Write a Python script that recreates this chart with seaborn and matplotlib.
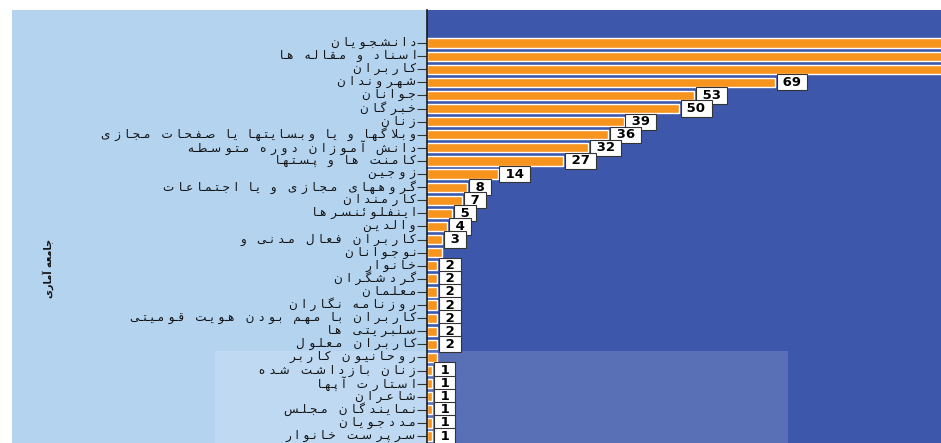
import matplotlib
matplotlib.use("Agg")
import matplotlib.pyplot as plt
from matplotlib.patches import Rectangle
from matplotlib.transforms import ScaledTranslation
import seaborn as sns

# categories (top to bottom) and counts
categories = [
    "دانشجویان", "اسناد و مقاله ها", "کاربران", "شهروندان", "جوانان", "خبرگان",
    "زنان", "وبلاگها و یا وبسایتها یا صفحات مجازی", "دانش آموزان دوره متوسطه",
    "کامنت ها و پستها", "زوجین", "گروههای مجازی و یا اجتماعات", "کارمندان",
    "اینفلوئنسرها", "والدین", "کاربران فعال مدنی و", "نوجوانان", "خانوار",
    "گردشگران", "معلمان", "روزنامه نگاران", "کاربران با مهم بودن هویت قومیتی",
    "سلبریتی ها", "کاربران معلول", "روحانیون کاربر", "زنان بازداشت شده",
    "استارت آپها", "شاعران", "نمایندگان مجلس", "مددجویان", "سرپرست خانوار",
]
counts = [130, 118, 108, 69, 53, 50, 39, 36, 32, 27, 14, 8, 7, 5, 4, 3, 3,
          2, 2, 2, 2, 2, 2, 2, 2, 1, 1, 1, 1, 1, 1]
# value boxes printed in the chart ('' = no box visible)
value_labels = ["", "", "", "69", "53", "50", "39", "36", "32", "27", "14", "8",
                "7", "5", "4", "3", "", "2", "2", "2", "2", "2", "2", "2", "",
                "1", "1", "1", "1", "1", "1"]
y_title = "جامعه آماری"

ORANGE = "#F7941E"
NAVY = "#3D58AB"
SKY = "#B3D3EF"

# --- minimal Persian shaping (matplotlib has no bidi/joining) ---
FORMS = {
    "ا": (0xFE8D, 0xFE8E, None, None), "آ": (0xFE81, 0xFE82, None, None),
    "ب": (0xFE8F, 0xFE90, 0xFE91, 0xFE92), "پ": (0xFB56, 0xFB57, 0xFB58, 0xFB59),
    "ت": (0xFE95, 0xFE96, 0xFE97, 0xFE98), "ث": (0xFE99, 0xFE9A, 0xFE9B, 0xFE9C),
    "ج": (0xFE9D, 0xFE9E, 0xFE9F, 0xFEA0), "چ": (0xFB7A, 0xFB7B, 0xFB7C, 0xFB7D),
    "ح": (0xFEA1, 0xFEA2, 0xFEA3, 0xFEA4), "خ": (0xFEA5, 0xFEA6, 0xFEA7, 0xFEA8),
    "د": (0xFEA9, 0xFEAA, None, None), "ذ": (0xFEAB, 0xFEAC, None, None),
    "ر": (0xFEAD, 0xFEAE, None, None), "ز": (0xFEAF, 0xFEB0, None, None),
    "ژ": (0xFB8A, 0xFB8B, None, None), "س": (0xFEB1, 0xFEB2, 0xFEB3, 0xFEB4),
    "ش": (0xFEB5, 0xFEB6, 0xFEB7, 0xFEB8), "ص": (0xFEB9, 0xFEBA, 0xFEBB, 0xFEBC),
    "ض": (0xFEBD, 0xFEBE, 0xFEBF, 0xFEC0), "ط": (0xFEC1, 0xFEC2, 0xFEC3, 0xFEC4),
    "ظ": (0xFEC5, 0xFEC6, 0xFEC7, 0xFEC8), "ع": (0xFEC9, 0xFECA, 0xFECB, 0xFECC),
    "غ": (0xFECD, 0xFECE, 0xFECF, 0xFED0), "ف": (0xFED1, 0xFED2, 0xFED3, 0xFED4),
    "ق": (0xFED5, 0xFED6, 0xFED7, 0xFED8), "ک": (0xFB8E, 0xFB8F, 0xFB90, 0xFB91),
    "گ": (0xFB92, 0xFB93, 0xFB94, 0xFB95), "ل": (0xFEDD, 0xFEDE, 0xFEDF, 0xFEE0),
    "م": (0xFEE1, 0xFEE2, 0xFEE3, 0xFEE4), "ن": (0xFEE5, 0xFEE6, 0xFEE7, 0xFEE8),
    "و": (0xFEED, 0xFEEE, None, None), "ه": (0xFEE9, 0xFEEA, 0xFEEB, 0xFEEC),
    "ی": (0xFBFC, 0xFBFD, 0xFBFE, 0xFBFF), "ئ": (0xFE89, 0xFE8A, 0xFE8B, 0xFE8C),
}
LAM_ALEF = {"ا": (0xFEFB, 0xFEFC), "آ": (0xFEF5, 0xFEF6)}
TATWEEL = "\u0640"
GAP = "\u2009\u2009"
WORD_GAP = "   "


def shape(text, spread=True):
    out = []
    i = 0
    while i < len(text):
        c = text[i]
        prev = text[i - 1] if i > 0 else None
        nxt = text[i + 1] if i + 1 < len(text) else None
        if c not in FORMS:
            out.append(WORD_GAP if (spread and c == " ") else c)
            i += 1
            continue
        join_prev = prev in FORMS and FORMS[prev][2] is not None
        if c == "ل" and nxt in LAM_ALEF:
            out.append(chr(LAM_ALEF[nxt][1 if join_prev else 0]))
            i += 2
            nxt = text[i] if i < len(text) else None
            if spread and nxt in FORMS:
                out.append(GAP)
            continue
        join_next = FORMS[c][2] is not None and nxt in FORMS
        iso, fin, ini, med = FORMS[c]
        if join_prev and join_next:
            code = med
        elif join_prev:
            code = fin
        elif join_next:
            code = ini
        else:
            code = iso
        out.append(chr(code))
        if spread and join_next:
            out.append(TATWEEL)
        elif spread and nxt in FORMS:
            out.append(GAP)
        i += 1
    return "".join(out)[::-1]


shaped = [shape(c) for c in categories]

sns.set_style("white")
plt.rcParams["font.family"] = ["DejaVu Sans"]

fig = plt.figure(figsize=(9.41, 4.43), dpi=100, facecolor="white")
W, H = 941, 443
# light blue left panel (behind the axes)
fig.patches.append(Rectangle((12 / W, 0), (427 - 12) / W, (H - 10) / H,
                             transform=fig.transFigure, facecolor=SKY,
                             edgecolor="none", zorder=-1))

ax = fig.add_axes([427 / W, 0, (W - 427) / W, (H - 10) / H])
ax.set_facecolor(NAVY)

sns.barplot(x=counts, y=shaped, order=shaped, orient="h", color=ORANGE,
            saturation=1, width=0.7, ax=ax, zorder=2)

for i, (v, lab) in enumerate(zip(counts, value_labels)):
    if lab:
        ax.annotate(f" {lab} ", xy=(v, i), xytext=(2.5, 0),
                    textcoords="offset points", ha="left", va="center",
                    fontsize=9.5, fontweight="bold", color="black", zorder=4,
                    bbox=dict(boxstyle="square,pad=0.12", fc="white",
                              ec="#333333", lw=0.8))

ax.set_xlim(0, 102)
ax.set_ylim(30.53, -2.52)
ax.set_xticks([])
ax.set_xlabel("")
ax.set_ylabel("")
for s in ["top", "right", "bottom"]:
    ax.spines[s].set_visible(False)
ax.spines["left"].set_color("#1a1a1a")
ax.spines["left"].set_linewidth(1.2)
ax.tick_params(axis="y", left=True, labelleft=True, length=7, width=0.8,
               color="#333333", pad=1, labelsize=8.6, labelcolor="#111111")
# labels sit a little above their tick in the original
shift = ScaledTranslation(0, 1.5 / 72, fig.dpi_scale_trans)
for lab in ax.get_yticklabels():
    lab.set_transform(lab.get_transform() + shift)

# faint watermark box
ax.add_patch(Rectangle((215 / W, 0), (788 - 215) / W, (443 - 351) / H,
                       transform=fig.transFigure, facecolor="white",
                       alpha=0.15, edgecolor="none", clip_on=False, zorder=0.5))

fig.text(48 / W, 1 - 268 / H, shape(y_title, spread=False), rotation=90,
         ha="center", va="center", fontsize=7, fontweight="bold",
         color="#111111")

fig.savefig("out.png", dpi=100, facecolor=fig.get_facecolor())
